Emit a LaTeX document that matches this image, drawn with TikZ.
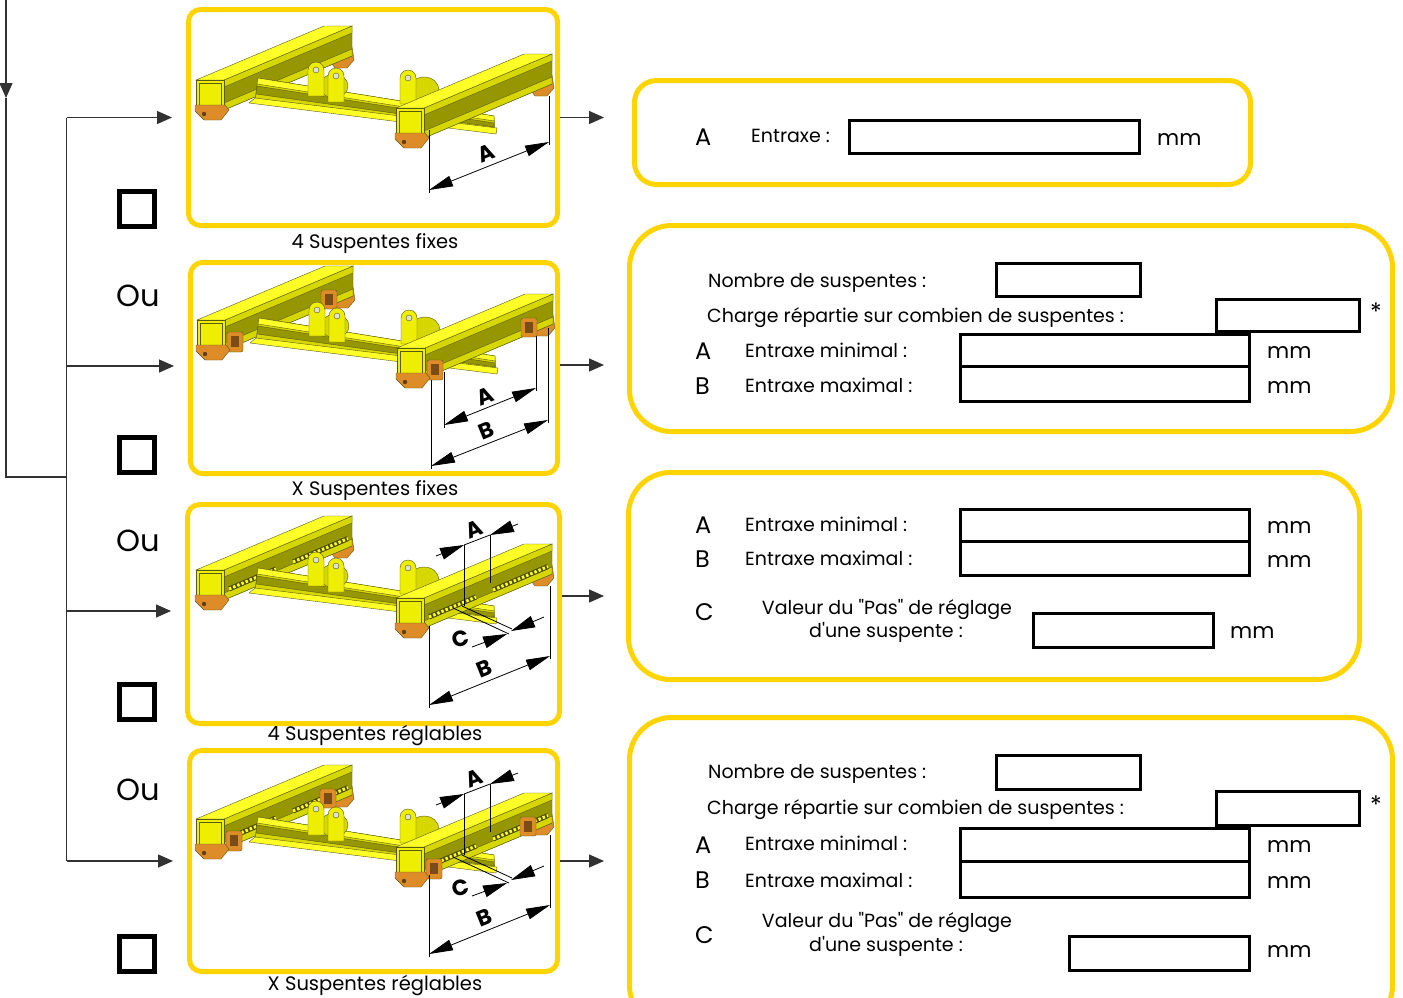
\documentclass[tikz,border=0pt]{standalone}
\usepackage{fontspec}
\setmainfont{Poppins}[Ligatures=TeXOff]
\usetikzlibrary{arrows.meta}
\definecolor{frameY}{RGB}{255,212,0}
\definecolor{yTop}{RGB}{255,255,40}
\definecolor{yFront}{RGB}{238,238,0}
\definecolor{yMid}{RGB}{215,215,0}
\definecolor{yWeb}{RGB}{150,150,0}
\definecolor{edgeC}{RGB}{90,90,20}
\definecolor{footC}{RGB}{222,140,40}
\definecolor{lineC}{RGB}{50,50,50}
\newcommand\fsz[1]{\fontsize{#1}{#1}\selectfont}
\tikzset{
 lpanel/.style={draw=frameY, line width=5pt, rounded corners=12pt, inner sep=0pt, anchor=north west, fill=white},
 rpanel/.style={draw=frameY, line width=5pt, inner sep=0pt, anchor=north west},
 inbox/.style={draw=black, line width=3pt, inner sep=0pt, anchor=north west},
 chk/.style={draw=black, line width=5pt, minimum size=35pt, inner sep=0pt},
 txt/.style={anchor=base west, inner sep=0pt, font=\fsz{19}},
 ctxt/.style={anchor=base, inner sep=0pt, font=\fsz{19}},
 bigl/.style={anchor=base west, inner sep=0pt, font=\fsz{24}},
 unitl/.style={anchor=base west, inner sep=0pt, font=\fsz{21.5}},
 starl/.style={anchor=center, inner sep=0pt, font=\fsz{24}},
 capl/.style={anchor=base, inner sep=0pt, font=\fsz{19.5}},
 oul/.style={anchor=base west, inner sep=0pt, font=\fsz{30.5}},
 flow/.style={draw=lineC, line width=1.3pt},
 flowarr/.style={flow, -{Triangle[length=15pt,width=13pt]}},
 dimline/.style={draw=black, line width=0.8pt},
 dimarr/.style={dimline, {Triangle[length=24pt,width=11pt]}-{Triangle[length=24pt,width=11pt]}},
 dimone/.style={dimline, -{Triangle[length=24pt,width=12pt]}},
 dimlbl/.style={font=\fsz{22}\bfseries, inner sep=0pt},
 part/.style={draw=edgeC, line width=0.4pt},
}
% clevis plate with a hole
\newcommand\Plate[2]{%
 \filldraw[part, fill=yFront] (#1,#2+34) -- (#1,#2+8) arc[start angle=180, end angle=360, radius=8] -- (#1+16,#2+34) -- cycle;
 \filldraw[part, fill=gray!25] (#1+8,#2+8) circle[radius=3];
}
% beam prism; #3 = decoration on side face
\newcommand\Beam[3]{%
 \begin{scope}[shift={(#1,#2)}]
  \filldraw[part, fill=footC] (133,-33) -- (156,-33) -- (158,-20) -- (151,-12) -- (139,-12) -- (133,-20) -- cycle;
  \filldraw[part, fill=yWeb] (28,0) -- (156,-54) -- (156,-24) -- (28,30) -- cycle;
  \filldraw[part, fill=yMid] (28,0) -- (156,-54) -- (156,-47) -- (28,7) -- cycle;
  \filldraw[part, fill=yMid] (28,23) -- (156,-31) -- (156,-24) -- (28,30) -- cycle;
  #3
  \filldraw[part, fill=yTop] (0,0) -- (28,0) -- (156,-54) -- (128,-54) -- cycle;
  \filldraw[part, fill=yFront] (0,0) rectangle (28,30);
  \draw[edgeC, line width=0.3pt] (3,3) rectangle (25,27);
  \filldraw[part, fill=footC] (-1,25) -- (29,25) -- (33,30) -- (25,40) -- (8,40) -- (-1,31) -- cycle;
  \fill[footC!45!black] (8,34) circle[radius=2.2];
 \end{scope}}
\newcommand\Clev{%
 \filldraw[part, fill=footC, rounded corners=2pt] (30,12) rectangle (46,32);
 \fill[footC!55!black] (34,16) rectangle (42,27);
 \filldraw[part, fill=footC, rounded corners=2pt] (124,-30) rectangle (140,-11);
 \fill[footC!55!black] (128,-26) rectangle (136,-15);
}
\newcommand\Teeth{%
 \draw[yWeb!50!black, line width=5pt] (33,19) -- (80,-1);
 \draw[yTop, line width=3pt, dash pattern=on 2.5pt off 2pt] (33,19) -- (80,-1);
 \draw[yWeb!50!black, line width=5pt] (97,-8) -- (152,-31.5);
 \draw[yTop, line width=3pt, dash pattern=on 2.5pt off 2pt] (97,-8) -- (152,-31.5);
}
\newcommand\Rig[1]{%
 \Beam{-200}{-28}{#1}%
 \filldraw[part, fill=yMid] (-141,-8) -- (-138,-30) -- (98,8) -- (99,24) -- cycle;
 \filldraw[part, fill=yTop] (-138,-30) -- (98,8) -- (98,13) -- (-139,-24) -- cycle;
 \filldraw[part, fill=yWeb] (-139,-22) -- (98,15) -- (98,19) -- (-140,-14) -- cycle;
 \filldraw[part, fill=yTop] (-147,-5) -- (-141,-10) -- (101,20) -- (100,26) -- cycle;
 \filldraw[part, fill=yMid] (-62,-22) ellipse [x radius=14, y radius=12];
 \Plate{-88}{-46}%
 \Plate{-68}{-40}%
 \filldraw[part, fill=yMid] (28,-18) ellipse [x radius=15, y radius=13];
 \Plate{4}{-38}%
 \Beam{0}{0}{#1}%
}
\newcommand\AdjDims[1]{%
 \draw[dimline] (33,28) -- (33,110);
 \draw[dimline] (154,-12) -- (154,61);
 \draw[dimarr] (33,107) -- (154,58);
 \node[dimlbl, rotate=22] (lB#1) at (88,71) {B};
 \draw[dimline] (68,-53) -- (68,8);
 \draw[dimline] (94,-63) -- (94,-15);
 \draw[dimline] (68,-53) -- (94,-63);
 \draw[dimone] (40,-42) -- (68,-53);
 \draw[dimone] (122,-74) -- (94,-63);
 \node[dimlbl, rotate=22] (lA#1) at (78,-69) {A};
 \draw[dimline] (57,10) -- (113,36);
 \draw[dimline] (66,8) -- (116,31);
 \draw[dimone] (148,19) -- (115,33);
 \draw[dimone] (76,49) -- (111,36);
 \node[dimlbl, rotate=15] (lC#1) at (65,41) {C};
}
\begin{document}
\begin{tikzpicture}[x=1pt,y=-1pt]
\useasboundingbox (0,0) rectangle (1403,997);
\clip (0,0) rectangle (1403,997);
\fill[white] (0,0) rectangle (1403,997);

% left picture frames
\node[lpanel, minimum width=369pt, minimum height=216pt] (p1) at (186,7) {};
\node[lpanel, minimum width=367pt, minimum height=211pt] (p2) at (188,260) {};
\node[lpanel, minimum width=372pt, minimum height=219pt] (p3) at (185,502) {};
\node[lpanel, minimum width=368pt, minimum height=221pt] (p4) at (187,748) {};

% right form frames
\node[rpanel, rounded corners=22pt, minimum width=616pt, minimum height=104pt] (r1) at (632,78) {};
\node[rpanel, rounded corners=42pt, minimum width=763pt, minimum height=206pt] (r2) at (627,223) {};
\node[rpanel, rounded corners=42pt, minimum width=731pt, minimum height=207pt] (r3) at (626,470) {};
\node[rpanel, rounded corners=42pt, minimum width=763pt, minimum height=310pt] (r4) at (627,715) {};

% rigs
\begin{scope}[shift={(396,108)}]
 \Rig{}
 \draw[dimline] (33,22) -- (33,85);
 \draw[dimline] (153,-12) -- (153,37);
 \draw[dimarr] (33,82) -- (153,34);
 \node[dimlbl, rotate=22] (lA1) at (90,45) {A};
\end{scope}
\begin{scope}[shift={(397,348)}]
 \Rig{\Clev}
 \draw[dimline] (34,32) -- (34,121);
 \draw[dimline] (47,24) -- (47,80);
 \draw[dimline] (139,-12) -- (139,43);
 \draw[dimline] (151,-20) -- (151,75);
 \draw[dimarr] (47,77) -- (139,40);
 \draw[dimarr] (34,118) -- (151,72);
 \node[dimlbl, rotate=22] (lA2) at (88,48) {A};
 \node[dimlbl, rotate=22] (lB2) at (89,83) {B};
\end{scope}
\begin{scope}[shift={(396,598)}]
 \Rig{\Teeth}
 \AdjDims{3}
\end{scope}
\begin{scope}[shift={(396,847)}]
 \Rig{\Teeth\Clev}
 \AdjDims{4}
\end{scope}

% captions
\node[capl] (cap1) at (375,248) {4 Suspentes fixes};
\node[capl] (cap2) at (375,495) {X Suspentes fixes};
\node[capl] (cap3) at (375,740) {4 Suspentes réglables};
\node[capl] (cap4) at (375,990) {X Suspentes réglables};

% check boxes and "Ou"
\node[chk] (c1) at (137,208.5) {};
\node[chk] (c2) at (137,455) {};
\node[chk] (c3) at (137,701.5) {};
\node[chk] (c4) at (137,953.5) {};
\node[oul] (ou1) at (116,306) {Ou};
\node[oul] (ou2) at (116,551) {Ou};
\node[oul] (ou3) at (116,800) {Ou};

% flow lines
\coordinate (ftop) at (6,0);
\coordinate (fmid) at (6,98);
\coordinate (fcorner) at (6,477);
\coordinate (fjoin) at (66.5,477);
\coordinate (b1) at (66.5,117.5);
\coordinate (b2) at (66.5,366);
\coordinate (b3) at (66.5,611);
\coordinate (b4) at (66.5,861);
\draw[flowarr] (ftop) -- (fmid);
\draw[flow] (fmid) -- (fcorner) -- (fjoin);
\draw[flow] (b1) -- (b4);
\draw[flowarr, shorten >=14pt] (b1) -- (b1 -| p1.west);
\draw[flowarr, shorten >=14pt] (b2) -- (b2 -| p2.west);
\draw[flowarr, shorten >=14pt] (b3) -- (b3 -| p3.west);
\draw[flowarr, shorten >=14pt] (b4) -- (b4 -| p4.west);
\draw[flowarr, shorten >=28pt] (p1.east) -- (p1.east -| r1.west);
\draw[flowarr, shorten >=23pt] ([yshift=3pt]p2.east) -- ([yshift=3pt]p2.east -| r2.west);
\draw[flowarr, shorten >=22pt] ([yshift=18pt]p3.east) -- ([yshift=18pt]p3.east -| r3.west);
\draw[flowarr, shorten >=23pt] (p4.east) -- (p4.east -| r4.west);

% form 1
\node[bigl] (f1A) at (695,145) {A};
\node[txt] (f1t) at (751,142) {Entraxe :};
\node[inbox, minimum width=290pt, minimum height=33pt] (f1b) at (848,119) {};
\node[unitl] (f1u) at (1157,145) {mm};

% form 2
\node[txt] (f2n) at (708,287) {Nombre de suspentes :};
\node[inbox, minimum width=144pt, minimum height=33pt] (f2bn) at (995,262) {};
\node[txt] (f2c) at (707,322) {Charge répartie sur combien de suspentes :};
\node[inbox, minimum width=143pt, minimum height=32pt] (f2bc) at (1215,298) {};
\node[starl] (f2s) at (1376,312) {*};
\node[bigl] (f2A) at (695,359) {A};
\node[txt] (f2a) at (745,357) {Entraxe minimal :};
\node[inbox, minimum width=289pt, minimum height=32pt] (f2ba) at (959,333) {};
\node[unitl] (f2ua) at (1267,358) {mm};
\node[bigl] (f2B) at (695,394) {B};
\node[txt] (f2b) at (745,392) {Entraxe maximal :};
\node[inbox, minimum width=289pt, minimum height=35pt] (f2bb) at (959,365) {};
\node[unitl] (f2ub) at (1267,393) {mm};

% form 3
\node[bigl] (f3A) at (695,533) {A};
\node[txt] (f3a) at (745,531) {Entraxe minimal :};
\node[inbox, minimum width=289pt, minimum height=32pt] (f3ba) at (959,508) {};
\node[unitl] (f3ua) at (1267,533) {mm};
\node[bigl] (f3B) at (695,567) {B};
\node[txt] (f3b) at (745,565) {Entraxe maximal :};
\node[inbox, minimum width=289pt, minimum height=34pt] (f3bb) at (959,540) {};
\node[unitl] (f3ub) at (1267,567) {mm};
\node[bigl] (f3C) at (695,620) {C};
\node[ctxt] (f3v) at (887,614) {Valeur du "Pas" de réglage};
\node[ctxt] (f3d) at (886,637) {d'une suspente :};
\node[inbox, minimum width=180pt, minimum height=34pt] (f3bc) at (1032,612) {};
\node[unitl] (f3uc) at (1230,638) {mm};

% form 4
\node[txt] (f4n) at (708,778) {Nombre de suspentes :};
\node[inbox, minimum width=144pt, minimum height=34pt] (f4bn) at (995,754) {};
\node[txt] (f4c) at (707,814) {Charge répartie sur combien de suspentes :};
\node[inbox, minimum width=143pt, minimum height=34pt] (f4bc) at (1215,790) {};
\node[starl] (f4s) at (1376,805) {*};
\node[bigl] (f4A) at (695,853) {A};
\node[txt] (f4a) at (745,850) {Entraxe minimal :};
\node[inbox, minimum width=289pt, minimum height=33pt] (f4ba) at (959,827) {};
\node[unitl] (f4ua) at (1267,852) {mm};
\node[bigl] (f4B) at (695,888) {B};
\node[txt] (f4b) at (745,887) {Entraxe maximal :};
\node[inbox, minimum width=289pt, minimum height=36pt] (f4bb) at (959,860) {};
\node[unitl] (f4ub) at (1267,888) {mm};
\node[bigl] (f4C) at (695,943) {C};
\node[ctxt] (f4v) at (887,927) {Valeur du "Pas" de réglage};
\node[ctxt] (f4d) at (886,951) {d'une suspente :};
\node[inbox, minimum width=180pt, minimum height=34pt] (f4bc2) at (1068,935) {};
\node[unitl] (f4uc) at (1267,957) {mm};
\end{tikzpicture}
\end{document}
